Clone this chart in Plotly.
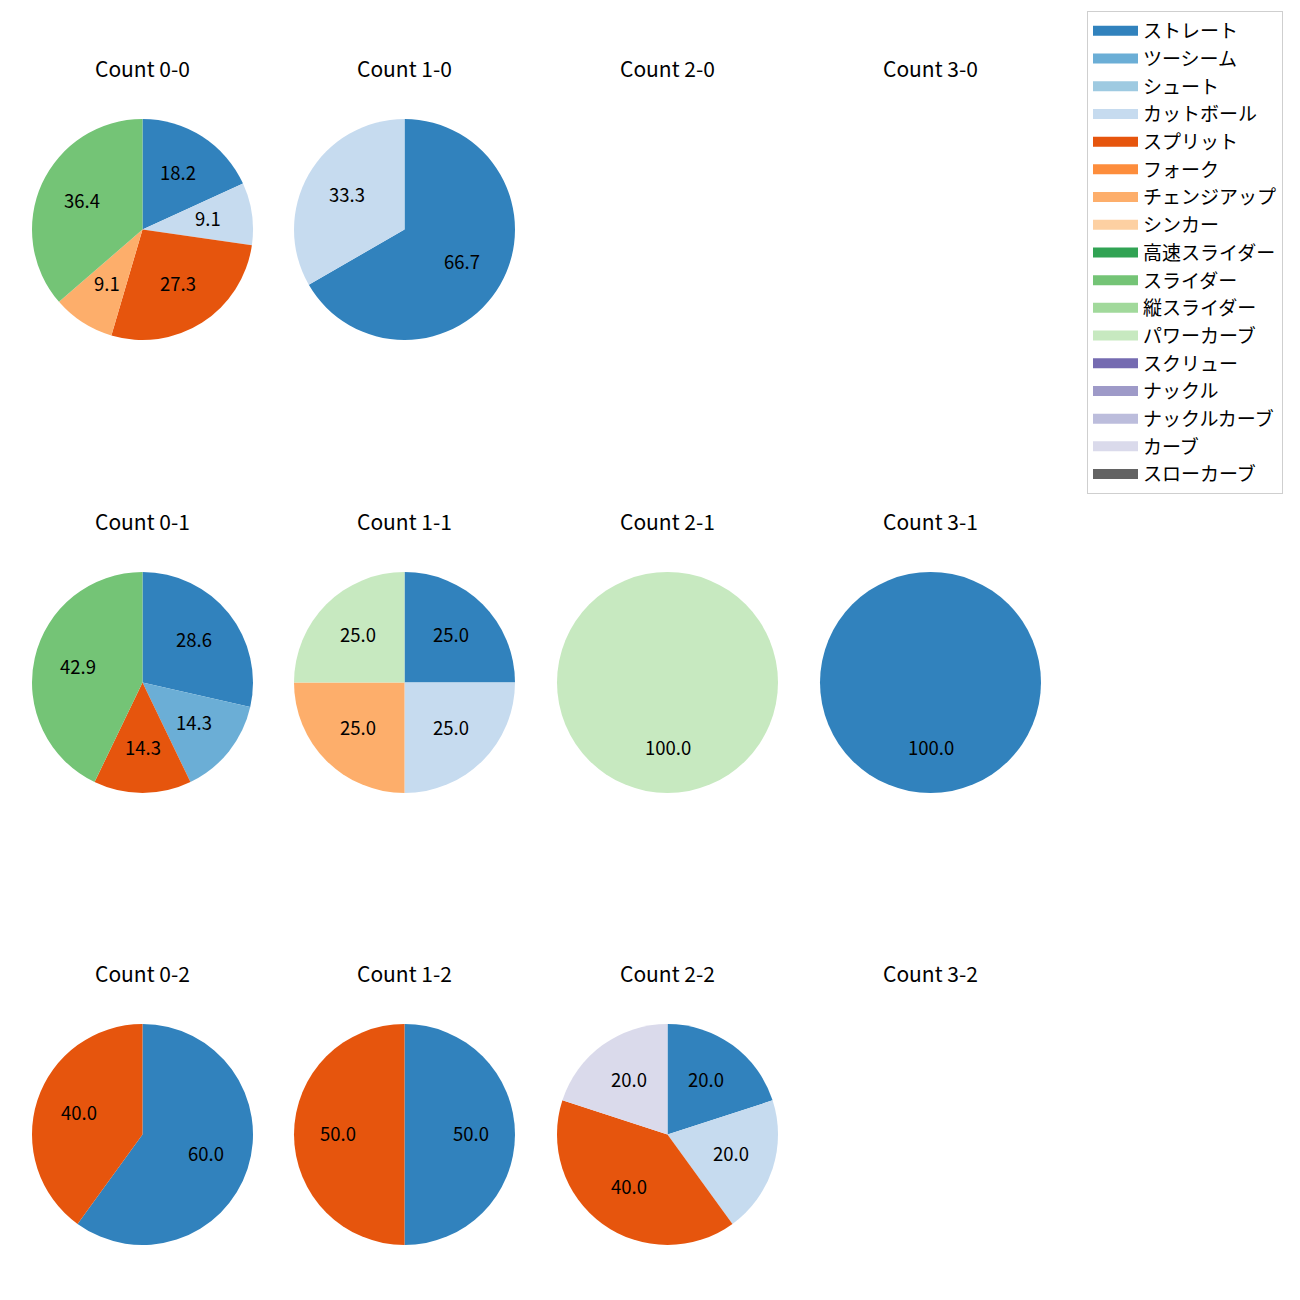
import math
import plotly.graph_objects as go

pitch_types = ["ストレート", "ツーシーム", "シュート", "カットボール", "スプリット", "フォーク",
               "チェンジアップ", "シンカー", "高速スライダー", "スライダー", "縦スライダー",
               "パワーカーブ", "スクリュー", "ナックル", "ナックルカーブ", "カーブ", "スローカーブ"]
pitch_colors = ["#3182bd", "#6baed6", "#9ecae1", "#c6dbef", "#e6550d", "#fd8d3c",
                "#fdae6b", "#fdd0a2", "#31a354", "#74c476", "#a1d99b", "#c7e9c0",
                "#756bb1", "#9e9ac8", "#bcbddc", "#dadaeb", "#636363"]

balls = [0, 1, 2, 3]
strikes = [0, 1, 2]

c00_labels = ["ストレート", "カットボール", "スプリット", "チェンジアップ", "スライダー"]
c00_values = [2, 1, 3, 1, 4]
c10_labels = ["ストレート", "カットボール"]
c10_values = [2, 1]
c20_labels = []
c20_values = []
c30_labels = []
c30_values = []
c01_labels = ["ストレート", "ツーシーム", "スプリット", "スライダー"]
c01_values = [2, 1, 1, 3]
c11_labels = ["ストレート", "カットボール", "チェンジアップ", "パワーカーブ"]
c11_values = [1, 1, 1, 1]
c21_labels = ["パワーカーブ"]
c21_values = [1]
c31_labels = ["ストレート"]
c31_values = [1]
c02_labels = ["ストレート", "スプリット"]
c02_values = [3, 2]
c12_labels = ["ストレート", "スプリット"]
c12_values = [1, 1]
c22_labels = ["ストレート", "カットボール", "スプリット", "カーブ"]
c22_values = [1, 1, 2, 1]
c32_labels = []
c32_values = []

data = {
    (0, 0): (c00_labels, c00_values), (1, 0): (c10_labels, c10_values),
    (2, 0): (c20_labels, c20_values), (3, 0): (c30_labels, c30_values),
    (0, 1): (c01_labels, c01_values), (1, 1): (c11_labels, c11_values),
    (2, 1): (c21_labels, c21_values), (3, 1): (c31_labels, c31_values),
    (0, 2): (c02_labels, c02_values), (1, 2): (c12_labels, c12_values),
    (2, 2): (c22_labels, c22_values), (3, 2): (c32_labels, c32_values),
}

color_map = dict(zip(pitch_types, pitch_colors))

W = H = 1300.0
OFF = 8.0  # page body margin
col_cx = [142.5, 404.5, 667.5, 930.5]
row_cy = [229.5, 682.5, 1134.5]
R = 110.5
FONT = "Noto Sans CJK JP"


def px_x(x):
    return (x - OFF) / W


def px_y(y):
    return 1 - (y - OFF) / H


fig = go.Figure()

# legend entries (no data, legend only)
for name, col in zip(pitch_types, pitch_colors):
    fig.add_trace(go.Scatter(
        x=[None], y=[None], mode="lines", name=name,
        line=dict(color=col, width=14), showlegend=True, hoverinfo="skip",
    ))

annotations = []
for (b, s), (labels, values) in data.items():
    cx, cy = col_cx[b], row_cy[s]
    annotations.append(dict(
        x=px_x(cx), y=px_y(cy - 161.5), xref="paper", yref="paper",
        text=f"Count {b}-{s}", showarrow=False,
        font=dict(size=21, family=FONT, color="#000000"),
        xanchor="center", yanchor="middle",
    ))
    if not values:
        continue
    fig.add_trace(go.Pie(
        labels=labels, values=values,
        marker=dict(colors=[color_map[l] for l in labels], line=dict(width=0)),
        sort=False, direction="clockwise", rotation=0,
        textinfo="none", hoverinfo="label+percent", showlegend=False,
        domain=dict(x=[px_x(cx - R), px_x(cx + R)],
                    y=[px_y(cy + R), px_y(cy - R)]),
    ))
    total = float(sum(values))
    cum = 0.0
    for v in values:
        frac = v / total
        theta = math.radians(90 - 360 * (cum + frac / 2))
        cum += frac
        lx = cx + 0.6 * R * math.cos(theta)
        ly = cy - 0.6 * R * math.sin(theta) - 2
        annotations.append(dict(
            x=px_x(lx), y=px_y(ly), xref="paper", yref="paper",
            text=f"{100 * frac:.1f}", showarrow=False,
            font=dict(size=18.5, family=FONT, color="#000000"),
            xanchor="center", yanchor="middle",
        ))

fig.update_layout(
    width=1300, height=1300,
    margin=dict(l=0, r=0, t=0, b=0),
    paper_bgcolor="white", plot_bgcolor="white",
    annotations=annotations,
    showlegend=True,
    xaxis=dict(visible=False), yaxis=dict(visible=False),
    legend=dict(
        x=px_x(1283), y=px_y(11), xanchor="right", yanchor="top",
        bordercolor="#cfcfcf", borderwidth=1, bgcolor="white",
        font=dict(size=19, family=FONT, color="#000000"),
        traceorder="normal", itemwidth=45,
    ),
    font=dict(family=FONT),
)

fig.write_html("out.html")
